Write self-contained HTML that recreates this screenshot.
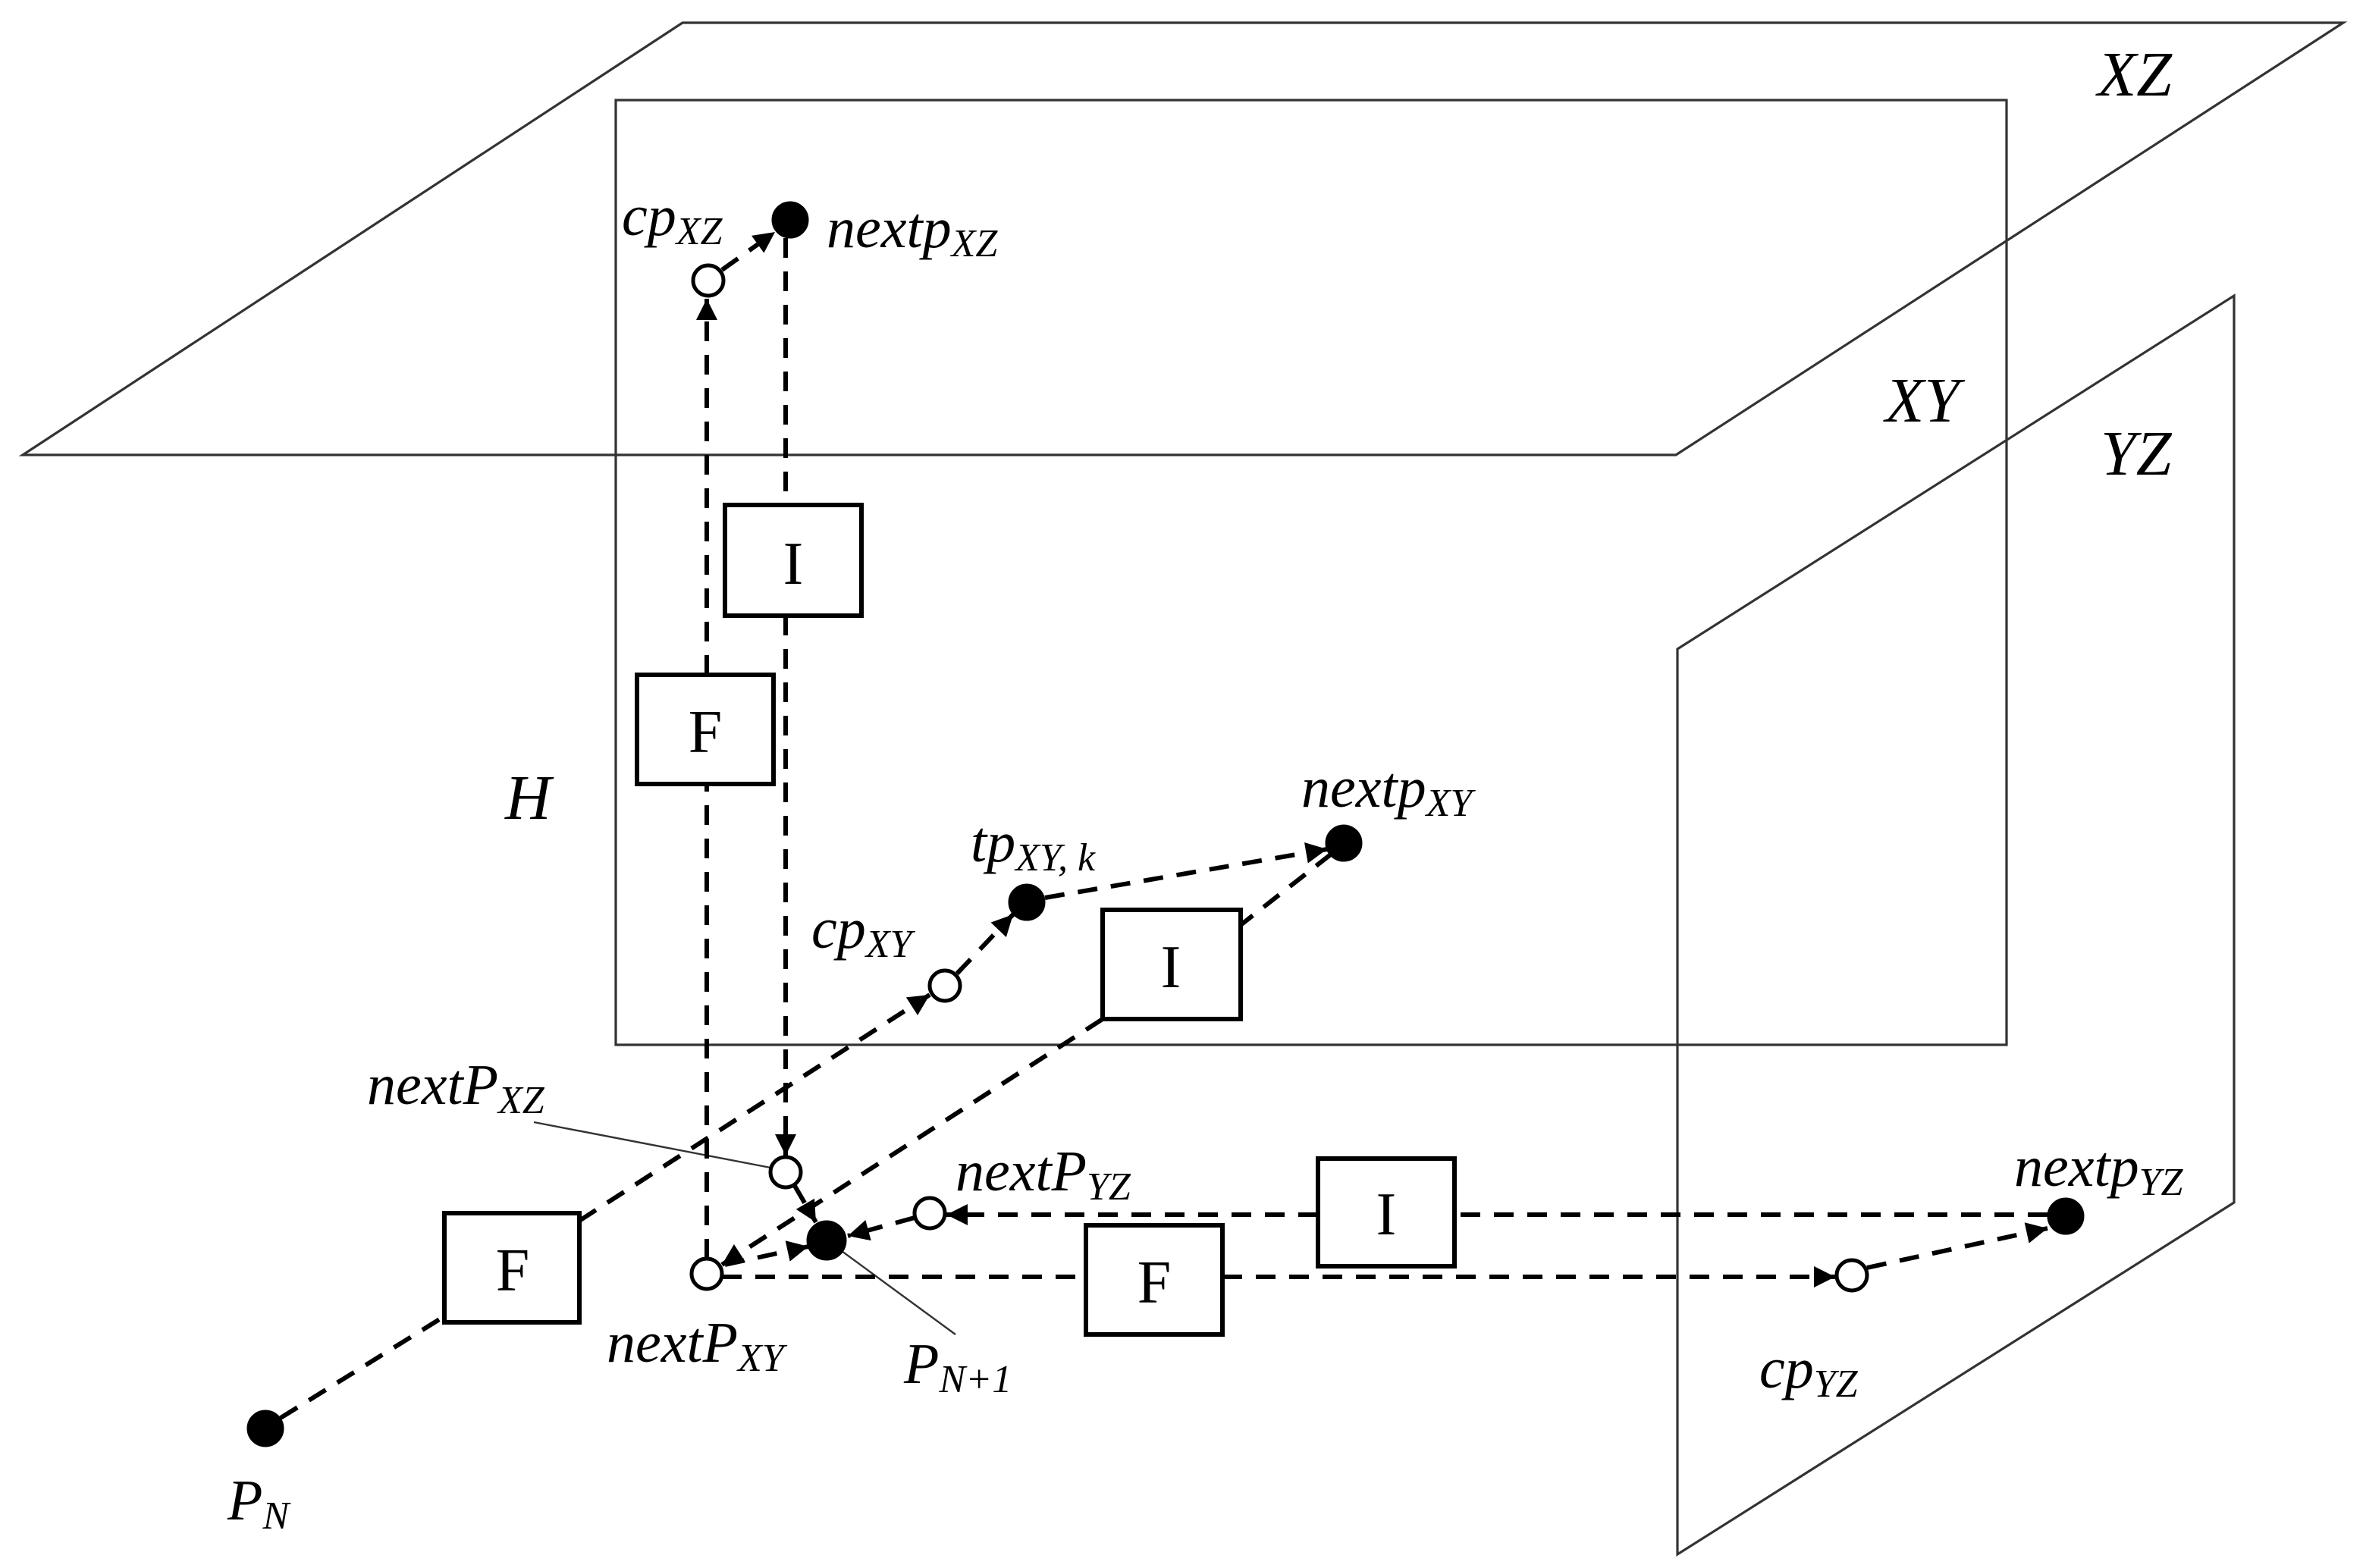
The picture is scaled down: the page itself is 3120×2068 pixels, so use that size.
<!DOCTYPE html>
<html><head><meta charset="utf-8"><style>
html,body{margin:0;padding:0;background:#fff;}
svg{display:block;}
text{font-family:"Liberation Serif",serif;font-style:italic;fill:#000;}
.b{font-style:normal;}
</style></head><body>
<svg width="3120" height="2068" viewBox="0 0 1560 1034" xmlns="http://www.w3.org/2000/svg">
<defs>
<marker id="a" viewBox="0 0 10 10" refX="10" refY="5" markerWidth="7" markerHeight="7" markerUnits="userSpaceOnUse" orient="auto">
<path d="M0,0 L10,5 L0,10 z" fill="#000" transform="scale(1)"/>
</marker>
<marker id="A" viewBox="0 0 10 10" refX="10" refY="5" markerWidth="16" markerHeight="14" orient="auto" markerUnits="userSpaceOnUse"><path d="M0,0 L10,5 L0,10 z" fill="#000"/></marker>
</defs>
<g fill="none" stroke="#333" stroke-width="1.6">
<polygon points="15,300 450,15 1545,15 1105,300"/>
<rect x="406" y="66" width="917" height="623"/>
<polygon points="1106,428 1473,195 1473,793 1106,1025"/>
<line x1="352" y1="740" x2="508" y2="770" stroke-width="1.2"/>
<line x1="555" y1="825" x2="630" y2="880" stroke-width="1.2"/>
</g>
<g fill="none" stroke="#000" stroke-width="3" stroke-dasharray="13,9">
<line x1="185" y1="935" x2="293" y2="868"/>
<line x1="382" y1="805" x2="613" y2="656" marker-end="url(#A)"/>
<line x1="631" y1="642" x2="668" y2="603" marker-end="url(#A)"/>
<line x1="689" y1="592" x2="875" y2="560" marker-end="url(#A)"/>
<line x1="878" y1="563" x2="818" y2="610"/>
<line x1="727" y1="672" x2="476" y2="834" marker-end="url(#A)"/>
<line x1="466" y1="830" x2="466" y2="517"/>
<line x1="466" y1="445" x2="466" y2="197" marker-end="url(#A)"/>
<line x1="476" y1="178" x2="511" y2="153" marker-end="url(#A)"/>
<line x1="518" y1="157" x2="518" y2="333"/>
<line x1="518" y1="406" x2="518" y2="762" marker-end="url(#A)"/>
<line x1="524" y1="782" x2="538" y2="806" marker-end="url(#A)"/>
<line x1="478" y1="834" x2="533" y2="822" marker-end="url(#A)"/>
<line x1="603" y1="803" x2="559" y2="815" marker-end="url(#A)"/>
<line x1="1350" y1="801" x2="959" y2="801"/>
<line x1="869" y1="801" x2="624" y2="801" marker-end="url(#A)"/>
<line x1="476" y1="842" x2="716" y2="842"/>
<line x1="806" y1="842" x2="1210" y2="842" marker-end="url(#A)"/>
<line x1="1231" y1="836" x2="1350" y2="810" marker-end="url(#A)"/>
</g>
<g stroke="#000" stroke-width="2.5">
<circle cx="466" cy="840" r="10" fill="#fff"/>
<circle cx="518" cy="773" r="10" fill="#fff"/>
<circle cx="613" cy="800" r="10" fill="#fff"/>
<circle cx="1221" cy="841" r="10" fill="#fff"/>
<circle cx="623" cy="650" r="10" fill="#fff"/>
<circle cx="467" cy="185" r="10" fill="#fff"/>
<circle cx="175" cy="942" r="11" fill="#000"/>
<circle cx="545" cy="818" r="12" fill="#000"/>
<circle cx="1362" cy="802" r="11" fill="#000"/>
<circle cx="677" cy="595" r="11" fill="#000"/>
<circle cx="886" cy="556" r="11" fill="#000"/>
<circle cx="521" cy="145" r="11" fill="#000"/>
</g>
<g fill="#fff" stroke="#000" stroke-width="3">
<rect x="293" y="800" width="89" height="72"/>
<rect x="420" y="445" width="90" height="72"/>
<rect x="478" y="333" width="90" height="73"/>
<rect x="727" y="600" width="91" height="72"/>
<rect x="869" y="764" width="90" height="71"/>
<rect x="716" y="808" width="90" height="72"/>
</g>
<g font-size="40" text-anchor="middle" class="b">
<text class="b" x="338" y="851">F</text>
<text class="b" x="465" y="496">F</text>
<text class="b" x="523" y="385">I</text>
<text class="b" x="772" y="651">I</text>
<text class="b" x="914" y="814">I</text>
<text class="b" x="761" y="859">F</text>
</g>
<g font-size="42">
<text x="1383" y="63">XZ</text>
<text x="1243" y="278">XY</text>
<text x="1385" y="313">YZ</text>
<text x="333" y="540">H</text>
</g>
<g font-size="38">
<text x="150" y="1002">P<tspan font-size="26" dy="6">N</tspan></text>
<text x="242" y="728">nextP<tspan font-size="26" dy="6">XZ</tspan></text>
<text x="630" y="785">nextP<tspan font-size="26" dy="6">YZ</tspan></text>
<text x="400" y="898">nextP<tspan font-size="26" dy="6">XY</tspan></text>
<text x="596" y="912">P<tspan font-size="26" dy="6">N+1</tspan></text>
<text x="1160" y="915">cp<tspan font-size="26" dy="6">YZ</tspan></text>
<text x="1328" y="782">nextp<tspan font-size="26" dy="6">YZ</tspan></text>
<text x="535" y="625">cp<tspan font-size="26" dy="6">XY</tspan></text>
<text x="640" y="568">tp<tspan font-size="26" dy="6">XY, k</tspan></text>
<text x="858" y="532">nextp<tspan font-size="26" dy="6">XY</tspan></text>
<text x="410" y="155">cp<tspan font-size="26" dy="6">XZ</tspan></text>
<text x="545" y="163">nextp<tspan font-size="26" dy="6">XZ</tspan></text>
</g>
</svg>
</body></html>
